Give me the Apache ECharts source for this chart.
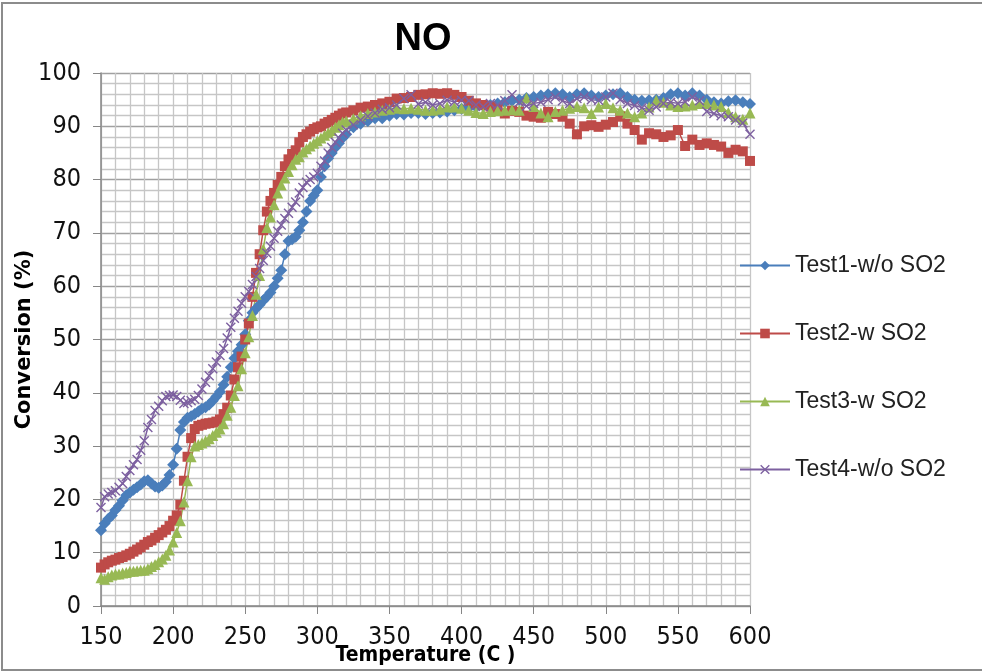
<!DOCTYPE html>
<html>
<head>
<meta charset="utf-8">
<title>NO conversion</title>
<script src="https://cdn.jsdelivr.net/npm/echarts@6/dist/echarts.min.js"></script>
<style>
  html, body { margin: 0; padding: 0; background: #fff; }
  #chart { width: 982px; height: 672px; }
</style>
</head>
<body>
<div id="chart"></div>
<script>
// temperature (C), shared by all four tests
var temps = [
  150, 152.5, 155, 157.5, 160, 162.5, 165, 167.5, 170, 172.5,
  175, 177.5, 180, 182.5, 185, 187.5, 190, 192.5, 195, 197.5,
  200, 202.5, 205, 207.5, 210, 212.5, 215, 217.5, 220, 222.5,
  225, 227.5, 230, 232.5, 235, 237.5, 240, 242.5, 245, 247.5,
  250, 252.5, 255, 257.5, 260, 262.5, 265, 267.5, 270, 272.5,
  275, 277.5, 280, 282.5, 285, 287.5, 290, 292.5, 295, 297.5,
  300, 302.5, 305, 307.5, 310, 312.5, 315, 317.5, 320,
  325, 330, 335, 340, 345, 350, 355, 360, 365, 370,
  375, 380, 385, 390, 395, 400, 405, 410, 415, 420,
  425, 430, 435, 440, 445, 450, 455, 460, 465, 470,
  475, 480, 485, 490, 495, 500, 505, 510, 515, 520,
  525, 530, 535, 540, 545, 550, 555, 560, 565, 570,
  575, 580, 585, 590, 595, 600
];

// conversion (%)
var test1 = [
  14.2, 15.5, 16.3, 17.0, 18.0, 18.8, 19.8, 20.8, 21.3, 21.8,
  22.3, 22.8, 23.4, 23.6, 23.0, 22.4, 22.2, 22.6, 23.3, 24.6,
  26.5, 29.5, 33.0, 34.5, 35.3, 35.6, 36.0, 36.5, 37.0, 37.3,
  37.8, 38.5, 39.3, 40.2, 41.5, 43.0, 44.8, 46.5, 47.8, 49.0,
  51.0, 53.5, 55.0, 55.8, 56.5, 57.3, 58.0, 58.8, 60.0, 61.5,
  63.0, 66.0, 68.5, 68.8, 69.3, 70.5, 72.0, 74.0, 76.0, 77.0,
  78.0, 80.5, 82.5, 84.0, 85.0, 86.0, 86.8, 87.8, 88.5,
  89.8, 90.5, 91.0, 91.5, 91.5, 92.0, 92.3, 92.2, 92.5, 92.5,
  92.3, 92.5, 92.6, 92.8, 93.0, 93.3, 93.5, 93.6, 93.8, 94.0,
  94.3, 94.5, 94.8, 95.0, 95.3, 95.5, 95.8, 96.0, 96.2, 96.0,
  95.5, 96.0, 96.2, 95.8, 95.5, 95.8, 96.0, 96.2, 95.5, 95.0,
  94.8, 94.9, 95.0, 95.3, 96.0, 96.2, 95.8, 96.2, 95.8, 95.0,
  94.5, 94.3, 94.7, 94.9, 94.5, 94.2
];
var test2 = [
  7.2, 7.8, 8.2, 8.5, 8.7, 9.0, 9.2, 9.5, 9.8, 10.2,
  10.6, 11.0, 11.5, 12.0, 12.3, 12.8, 13.3, 13.8, 14.3, 15.0,
  16.0, 17.0, 19.0, 23.5, 28.0, 31.5, 33.2, 33.8, 34.0, 34.2,
  34.3, 34.4, 34.6, 35.0, 36.0, 37.2, 39.5, 42.5, 44.8, 46.8,
  50.0, 53.0, 58.0, 62.5, 66.0, 70.5, 74.0, 76.0, 77.5, 79.0,
  80.5, 82.5, 83.8, 84.8, 85.5, 87.0, 88.0, 88.5, 89.0, 89.5,
  89.8, 90.0, 90.5, 90.8, 91.2, 91.6, 92.0, 92.4, 92.6,
  93.0, 93.5, 93.7, 94.0, 94.3, 94.6, 95.2, 95.3, 95.5, 95.9,
  96.0, 96.2, 96.1, 96.2, 95.9, 95.5, 94.8, 94.3, 94.0, 93.7,
  93.2, 92.4, 92.9, 92.7, 92.0, 91.8, 91.6, 92.7, 92.3, 91.8,
  90.5, 88.5, 90.0, 90.2, 89.9, 90.3, 90.8, 91.8, 90.5, 89.3,
  87.5, 88.7, 88.5, 88.0, 88.3, 89.3, 86.3, 87.5, 86.5, 86.8,
  86.5, 86.2, 85.0, 85.6, 85.3, 83.5
];
var test3 = [
  5.3, 5.0, 5.5, 5.8, 6.0, 6.0, 6.2, 6.3, 6.5, 6.5,
  6.6, 6.7, 6.7, 7.0, 7.4, 7.8, 8.3, 8.8, 9.5, 10.5,
  12.0, 13.8, 16.0, 19.5, 23.5, 28.0, 30.0, 30.3, 30.6, 31.0,
  31.4, 32.0, 32.6, 33.2, 34.2, 35.8, 37.3, 39.5, 41.3, 44.5,
  47.5, 50.5, 54.5, 58.5, 62.0, 67.0, 71.0, 73.0, 75.3, 77.5,
  79.0, 80.3, 81.5, 82.8, 83.8, 84.3, 85.2, 85.8, 86.3, 86.8,
  87.3, 87.8, 88.3, 88.8, 89.2, 89.8, 90.3, 90.8, 91.0,
  91.4, 92.0, 92.4, 92.7, 93.0, 93.2, 93.4, 93.3, 93.4, 93.2,
  93.0, 93.0, 93.2, 93.6, 93.6, 93.4, 93.0, 92.6, 92.4, 92.8,
  92.9, 93.0, 93.1, 93.0, 95.3, 93.7, 92.5, 91.8, 92.8, 93.0,
  93.4, 93.7, 93.5, 92.4, 93.6, 94.3, 93.5, 93.0, 92.5, 91.8,
  92.5, 93.6, 94.9, 94.5, 94.0, 93.7, 93.8, 94.0, 94.3, 94.3,
  94.0, 93.7, 92.6, 91.8, 91.3, 92.5
];
var test4 = [
  18.5, 20.5, 21.0, 21.3, 21.6, 22.3, 23.0, 24.3, 25.4, 26.5,
  27.5, 29.2, 31.0, 33.5, 35.0, 36.7, 37.5, 38.5, 39.3, 39.5,
  39.6, 39.3, 38.6, 38.0, 38.2, 38.5, 38.8, 39.5, 40.7, 42.0,
  43.2, 44.5, 45.8, 47.0, 48.3, 50.3, 52.3, 54.0, 55.3, 56.8,
  58.0, 59.0, 60.3, 61.8, 63.3, 64.8, 66.2, 67.5, 69.0, 70.3,
  71.5, 72.7, 73.7, 74.8, 75.8, 77.5, 78.5, 79.5, 80.0, 80.5,
  81.2, 82.5, 83.5, 85.0, 86.0, 87.0, 87.8, 88.7, 89.3,
  90.3, 91.2, 91.9, 92.5, 93.2, 93.5, 94.0, 95.2, 95.9, 94.2,
  94.5, 94.0, 94.3, 94.9, 94.6, 94.9, 94.8, 94.0, 93.7, 94.3,
  94.0, 94.8, 95.9, 94.5, 93.8, 94.3, 94.5, 95.0, 95.5, 94.8,
  94.3, 95.2, 95.5, 95.0, 94.9, 95.5, 96.2, 95.0, 94.3, 93.9,
  93.5, 93.0, 93.6, 94.3, 94.5, 94.3, 94.6, 95.5, 94.8, 92.8,
  92.4, 92.0, 91.8, 91.2, 90.6, 88.5
];

var seriesNames = ['Test1-w/o SO2', 'Test2-w SO2', 'Test3-w SO2', 'Test4-w/o SO2'];
var seriesColors = ['#4a7ebb', '#be4b48', '#98b954', '#7d60a0'];
var crossPath = 'path://M0,1 L1,0 L5,4 L9,0 L10,1 L6,5 L10,9 L9,10 L5,6 L1,10 L0,9 L4,5 Z';
var seriesSymbols = ['diamond', 'rect', 'triangle', crossPath];
var seriesSizes = [12, 10, 11, 10];

var narrow = "'Liberation Sans Narrow', 'DejaVu Sans Condensed', sans-serif";
var wide = "'DejaVu Sans', sans-serif";
var regular = "'Liberation Sans', Arial, sans-serif";

function pairs(values) {
  return temps.map(function (t, i) { return [t, values[i]]; });
}

var allValues = [test1, test2, test3, test4];
var series = allValues.map(function (vals, i) {
  return {
    name: seriesNames[i],
    type: 'line',
    data: pairs(vals),
    symbol: seriesSymbols[i],
    symbolSize: seriesSizes[i],
    showAllSymbol: true,
    color: seriesColors[i],
    lineStyle: { color: seriesColors[i], width: 1.5 },
    itemStyle: { color: seriesColors[i] }
  };
});

var chart = echarts.init(document.getElementById('chart'), null, { renderer: 'canvas' });

chart.setOption({
  animation: false,
  backgroundColor: '#fff',
  title: {
    text: 'NO',
    left: 418,
    top: 16,
    textAlign: 'center',
    textStyle: { fontFamily: regular, fontWeight: 'bold', fontSize: 38, color: '#000' }
  },
  legend: {
    orient: 'vertical',
    left: 734,
    top: 249,
    itemWidth: 50,
    itemHeight: 12,
    itemGap: 45,
    data: seriesNames,
    textStyle: { fontFamily: regular, fontSize: 23, color: '#222', lineHeight: 22 }
  },
  grid: { left: 101, right: 232, top: 73, bottom: 66, containLabel: false, outerBoundsMode: 'none' },
  xAxis: {
    type: 'value',
    min: 150,
    max: 600,
    interval: 50,
    name: 'Temperature (C )',
    nameLocation: 'middle',
    nameGap: 39,
    nameMoveOverlap: false,
    nameTextStyle: { fontFamily: narrow, fontWeight: 'bold', fontSize: 21, color: '#000' },
    axisLine: { show: true, lineStyle: { color: '#868686', width: 1.5 } },
    axisTick: { show: true, inside: false, length: 8, lineStyle: { color: '#868686' } },
    axisLabel: { fontFamily: narrow, fontSize: 25, color: '#111', margin: 19 },
    splitLine: { show: true, lineStyle: { color: '#c6c6c6', width: 1.3 } },
    minorTick: { show: false, splitNumber: 5 },
    minorSplitLine: { show: true, lineStyle: { color: '#c6c6c6', width: 1.3 } }
  },
  yAxis: {
    type: 'value',
    min: 0,
    max: 100,
    interval: 10,
    name: 'Conversion (%)',
    nameLocation: 'middle',
    nameGap: 66,
    nameMoveOverlap: false,
    nameTextStyle: { fontFamily: wide, fontWeight: 'bold', fontSize: 21, color: '#000' },
    axisLine: { show: true, lineStyle: { color: '#868686', width: 1.5 } },
    axisTick: { show: true, inside: false, length: 8, lineStyle: { color: '#868686' } },
    axisLabel: { fontFamily: narrow, fontSize: 25, color: '#111', margin: 20 },
    splitLine: { show: true, lineStyle: { color: '#a0a0a0', width: 1.3 } },
    minorTick: { show: false, splitNumber: 5 },
    minorSplitLine: { show: true, lineStyle: { color: '#c6c6c6', width: 1.3 } }
  },
  graphic: [{
    type: 'rect',
    shape: { x: 2, y: 3, width: 990, height: 667 },
    style: { fill: 'none', stroke: '#8c8c8c', lineWidth: 2 },
    silent: true,
    z: -1
  }],
  series: series
});
</script>
</body>
</html>
